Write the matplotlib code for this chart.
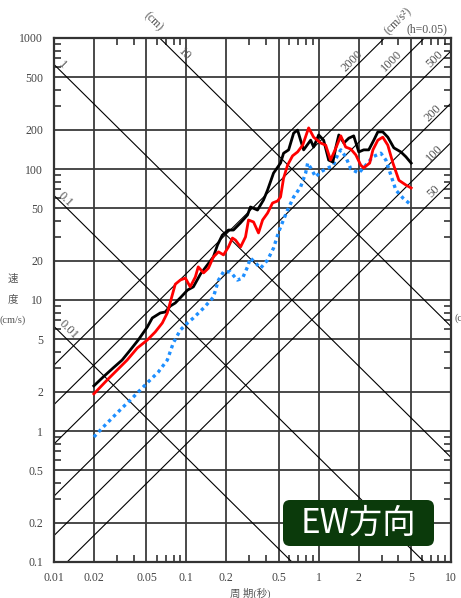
import numpy as np
import matplotlib.pyplot as plt
from matplotlib.patches import FancyBboxPatch
from matplotlib.ticker import LogLocator, NullFormatter

plt.rcParams['font.family'] = ['Liberation Serif', 'Noto Sans CJK JP', 'DejaVu Sans']

# period (s) / velocity (cm/s)
black_t = [0.020, 0.0235, 0.028, 0.0327, 0.0377, 0.0433, 0.0507, 0.0553, 0.0635, 0.0693,
           0.0757, 0.0825, 0.0901, 0.102, 0.113, 0.128, 0.144, 0.160, 0.172, 0.187,
           0.208, 0.227, 0.256, 0.290, 0.305, 0.345, 0.383, 0.411, 0.456, 0.515,
           0.543, 0.593, 0.647, 0.693, 0.730, 0.770, 0.870, 0.916, 1.00, 1.09,
           1.19, 1.28, 1.35, 1.42, 1.55, 1.69, 1.84, 2.01, 2.19, 2.39,
           2.61, 2.80, 3.05, 3.33, 3.70, 4.18, 4.56, 5.0]
black_v = [2.21, 2.58, 3.03, 3.48, 4.15, 4.95, 6.22, 7.29, 7.96, 8.10,
           9.00, 9.49, 10.4, 11.9, 12.6, 15.8, 18.5, 21.3, 26.3, 31.3,
           34.2, 34.2, 38.7, 44.6, 51.3, 48.6, 58.0, 69.1, 93.1, 111,
           132, 140, 188, 198, 166, 140, 166, 147, 182, 166,
           117, 113, 147, 182, 158, 172, 179, 135, 140, 140,
           166, 192, 192, 175, 145, 135, 124, 111]

red_t = [0.020, 0.0252, 0.0300, 0.0357, 0.0426, 0.0507, 0.0582, 0.0658, 0.0718, 0.0757,
         0.0825, 0.0901, 0.0983, 0.107, 0.117, 0.123, 0.135, 0.147, 0.160, 0.175,
         0.191, 0.208, 0.223, 0.235, 0.257, 0.280, 0.295, 0.322, 0.351, 0.377,
         0.411, 0.448, 0.489, 0.515, 0.543, 0.582, 0.635, 0.693, 0.757, 0.840,
         0.916, 1.035, 1.13, 1.23, 1.35, 1.47, 1.60, 1.75, 1.91, 2.08,
         2.19, 2.43, 2.57, 2.80, 3.05, 3.33, 3.64, 4.04, 4.56, 5.0]
red_v = [1.92, 2.45, 2.92, 3.48, 4.30, 4.95, 5.70, 6.67, 7.96, 9.65,
         13.2, 14.2, 14.7, 12.6, 15.0, 17.9, 16.1, 17.5, 21.3, 23.3,
         22.1, 25.4, 29.7, 28.7, 25.4, 30.3, 40.8, 39.4, 32.5, 40.8,
         46.1, 55.0, 57.0, 61.1, 85, 107, 126, 135, 152, 206,
         175, 158, 152, 117, 145, 179, 147, 142, 128, 107,
         102, 111, 140, 166, 175, 152, 111, 82, 75.5, 71.6]

blue_t = [0.020, 0.0235, 0.028, 0.0327, 0.0377, 0.0464, 0.0515, 0.0614, 0.0718, 0.0797,
          0.0901, 0.102, 0.113, 0.135, 0.160, 0.175, 0.191, 0.215, 0.243, 0.266,
          0.290, 0.305, 0.333, 0.364, 0.411, 0.456, 0.498, 0.534, 0.582, 0.647,
          0.730, 0.797, 0.826, 0.870, 0.949, 1.035, 1.17, 1.28, 1.39, 1.47,
          1.60, 1.75, 2.01, 2.27, 2.57, 2.95, 3.22, 3.51, 3.83, 4.33, 5.0]
blue_v = [0.90, 1.07, 1.28, 1.50, 1.72, 2.13, 2.37, 2.82, 3.48, 4.70,
          5.90, 6.67, 7.29, 8.68, 10.5, 14.2, 16.4, 16.4, 14.2, 14.7,
          17.9, 20.9, 19.2, 17.5, 20.2, 24.9, 33.0, 39.4, 48.6, 61.1,
          72.9, 93.1, 111, 102, 87, 95, 102, 105, 128, 140,
          124, 100, 93.1, 107, 124, 132, 117, 90, 69.1, 60.1, 53.1]

x_ticks = [0.01, 0.02, 0.05, 0.1, 0.2, 0.5, 1, 2, 5, 10]
x_labels = ['0.01', '0.02', '0.05', '0.1', '0.2', '0.5', '1', '2', '5', '10']
y_ticks = [0.1, 0.2, 0.5, 1, 2, 5, 10, 20, 50, 100, 200, 500, 1000]
y_labels = ['0.1', '0.2', '0.5', '1', '2', '5', '10', '20', '50', '100', '200', '500', '1000']

disp_levels = [0.01, 0.1, 1, 10]          # cm
acc_levels = [50, 100, 200, 500, 1000, 2000]  # cm/s^2

W, H = 461, 598
fig = plt.figure(figsize=(W / 100, H / 100), dpi=100)
ax = fig.add_axes([54 / W, 36 / H, 397 / W, 524 / H])
ax.set_xscale('log')
ax.set_yscale('log')
ax.set_xlim(0.01, 10)
ax.set_ylim(0.1, 1000)

ax.set_xticks(x_ticks)
ax.set_xticklabels(x_labels)
ax.set_yticks(y_ticks)
ax.set_yticklabels(y_labels)
ax.xaxis.set_minor_locator(LogLocator(base=10, subs=(3, 4, 6, 7, 8, 9)))
ax.yaxis.set_minor_locator(LogLocator(base=10, subs=(3, 4, 6, 7, 8, 9)))
ax.xaxis.set_minor_formatter(NullFormatter())
ax.yaxis.set_minor_formatter(NullFormatter())
ax.tick_params(which='major', length=0, labelsize=8.5, labelcolor='#444444')
ax.tick_params(axis='x', which='major', pad=7)
ax.tick_params(axis='y', which='major', pad=8)
ax.tick_params(which='minor', direction='in', length=5, width=1.1, color='#222222',
               top=True, right=True)
ax.grid(True, which='major', color='#3a3a3a', lw=1.3)
for s in ax.spines.values():
    s.set_linewidth(1.6)
    s.set_color('#333333')

tt = np.array([0.01, 10.0])
for d in disp_levels:
    ax.plot(tt, 2 * np.pi * d / tt, color='k', lw=0.8, zorder=2)
for a in acc_levels:
    ax.plot(tt, a * tt / (2 * np.pi), color='k', lw=0.8, zorder=2)

ax.plot(blue_t, blue_v, color='#1e8fff', lw=2.4, ls=(0, (1, 1.1)), zorder=3)
ax.plot(black_t, black_v, color='black', lw=2.0, zorder=4)
ax.plot(red_t, red_v, color='#ff0000', lw=2.0, zorder=5)

def ftext(x, y, s, rot=0, **kw):
    fig.text(x / W, 1 - y / H, s, rotation=rot, ha='center', va='center',
             color='#555555', rotation_mode='anchor', **kw)

ftext(153, 22, '(cm)', -45, fontsize=8.5)
ftext(184, 54, '10', -45, fontsize=9)
ftext(62, 65, '1', -45, fontsize=9)
ftext(65, 199, '0.1', -45, fontsize=9)
ftext(68, 330, '0.01', -45, fontsize=9)
ftext(398, 21, '(cm/s²)', 45, fontsize=8.5)
ftext(427, 29, '(h=0.05)', 0, fontsize=8.5)
ftext(352, 61, '2000', 45, fontsize=9)
ftext(392, 61, '1000', 45, fontsize=9)
ftext(435, 59, '500', 45, fontsize=9)
ftext(433, 113, '200', 45, fontsize=9)
ftext(434, 153, '100', 45, fontsize=9)
ftext(434, 191, '50', 45, fontsize=9)

ftext(13, 279, '速', fontsize=7.5)
ftext(13, 299, '度', fontsize=7.5)
ftext(13, 320, '(cm/s)', fontsize=7.5)
ftext(250, 593, '周 期(秒)', fontsize=7.5)
fig.text(454 / W, 1 - 318 / H, '(c', ha='left', va='center', fontsize=7.5, color='#555555')

box = FancyBboxPatch((2.83, 0.52), 1.51, 0.46, boxstyle='round,pad=0,rounding_size=0.07',
                     transform=fig.dpi_scale_trans, facecolor='#0b3a0b', edgecolor='none',
                     zorder=10)
fig.add_artist(box)
fig.text(358.5 / W, 1 - 523 / H, 'EW方向', ha='center', va='center', fontsize=24,
         color='white', family=['Noto Sans CJK JP'], zorder=11)

fig.savefig('out.png', dpi=100)
